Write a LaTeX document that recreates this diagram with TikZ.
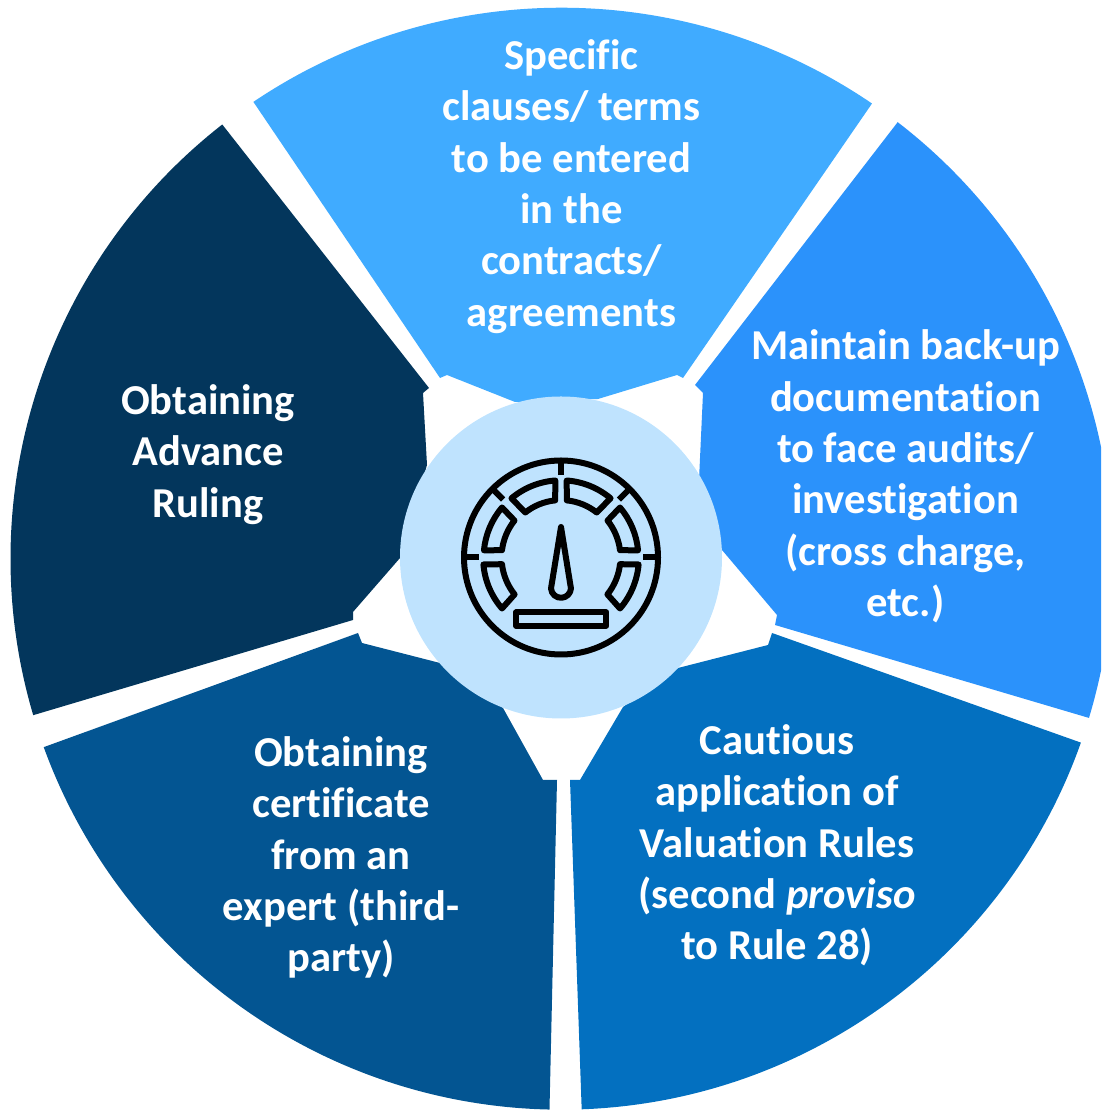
\documentclass[tikz,border=0pt]{standalone}
\usepackage{fontspec}
\usetikzlibrary{calc}
\setmainfont[RawFeature=-liga]{Carlito}
\definecolor{wtop}{HTML}{40ABFF}
\definecolor{wright}{HTML}{2B92FB}
\definecolor{wlr}{HTML}{0370C0}
\definecolor{wll}{HTML}{035592}
\definecolor{wleft}{HTML}{03365C}
\definecolor{hub}{HTML}{BFE3FE}
\tikzset{
  wedgeshape/.style={draw=none},
  wtext/.style={text=white,font=\fontsize{42.6}{51.3}\selectfont\bfseries,align=center,inner sep=0pt},
  icon/.style={draw=black,line width=6pt,line join=round,line cap=butt,fill=none},
}
\begin{document}
\begin{tikzpicture}[x=1pt,y=1pt]
\useasboundingbox (0,0) rectangle (1101,1110);
\clip (0,0) rectangle (1101,1110);
\coordinate (c) at (561.5,551.3);
% top
\fill[wedgeshape,wtop] ($(c)+(124:551)$) arc[start angle=124,end angle=55.7,radius=551]
  -- (683,732) -- (677,735) -- (598,711) -- (515,708) -- (447,735) -- (440,732) -- cycle;
% right
\fill[wedgeshape,wright] ($(c)+(52.4:551)$) arc[start angle=52.4,end angle=-16.8,radius=551]
  -- (775,485) -- (777,495) -- (722,560) -- (699,630) -- (703,717) -- (695,725) -- cycle;
% lower right
\fill[wedgeshape,wlr] ($(c)+(-19.5:551)$) arc[start angle=-19.5,end angle=-87.9,radius=551]
  -- (570,330) -- (580,330) -- (623,403) -- (678,442) -- (768,465) -- (772,477) -- cycle;
% lower left
\fill[wedgeshape,wll] ($(c)+(268.75:551)$) arc[start angle=268.75,end angle=200,radius=551]
  -- (358,477) -- (362,467) -- (440,447) -- (503,402) -- (543,330) -- (557,330) -- cycle;
% left
\fill[wedgeshape,wleft] ($(c)+(196.5:551)$) arc[start angle=196.5,end angle=128,radius=551]
  -- (429,722) -- (423,717) -- (427,645) -- (400,552) -- (353,498) -- (353,490) -- cycle;
% hub
\node[circle,fill=hub,minimum size=322pt,inner sep=0pt] (hubnode) at (561,552.5) {};
% texts
\node[wtext] (t1) at (571.5,923.5) {Specific\\clauses/ terms\\to be entered\\in the\\contracts/\\agreements};
\node[wtext] (t2) at (905.5,633.5) {Maintain back-up\\documentation\\to face audits/\\investigation\\(cross charge,\\etc.)};
\node[wtext] (t3) at (777,264.5) {Cautious\\application of\\Valuation Rules\\(second \textit{proviso}\\to Rule 28)};
\node[wtext] (t4) at (341,252.5) {Obtaining\\certificate\\from an\\expert (third-\\party)};
\node[wtext] (t5) at (208,655.5) {Obtaining\\Advance\\Ruling};
% icon
\begin{scope}[shift={(561,552.5)}]
  \draw[icon] (0,0) circle[radius=97];
  \draw[icon] (0,97) -- (0,82);
  \foreach \a in {0,45,135,180} \draw[icon] (\a:97) -- (\a:82);
  \foreach \s in {1,-1} {
    \begin{scope}[xscale=\s]
      \draw[icon] (5.7,77) arc[start angle=85.8,end angle=50,radius=77] -- (35.7,45) arc[start angle=51.6,end angle=84.3,radius=57.3] -- cycle;
      \draw[icon] (59,50) arc[start angle=40.3,end angle=5.4,radius=77.5] -- (59,7.3) arc[start angle=7.1,end angle=38.5,radius=59.4] -- cycle;
      \draw[icon] (59,-51) arc[start angle=-40.8,end angle=-5,radius=77.7] -- (59,-6.7) arc[start angle=-6.5,end angle=-38.7,radius=59] -- cycle;
    \end{scope}
  }
  \draw[icon] (0,30.5) -- (-10,-31) arc[start angle=184,end angle=356,radius=10] -- cycle;
  \draw[icon] (-45,-55) rectangle (45.3,-68.3);
\end{scope}
\end{tikzpicture}
\end{document}
